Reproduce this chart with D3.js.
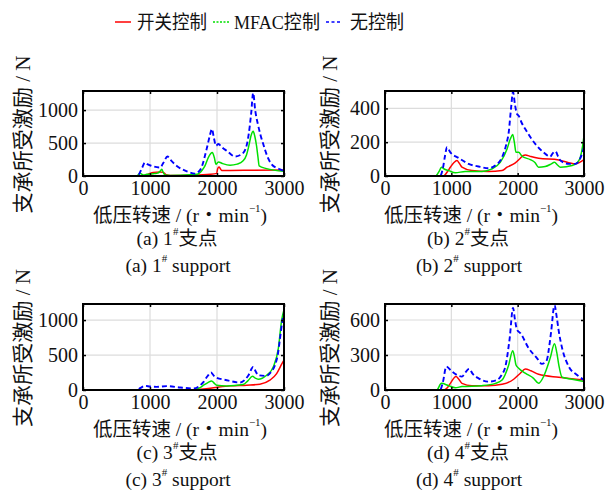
<!DOCTYPE html>
<html>
<head>
<meta charset="utf-8">
<script src="https://cdn.jsdelivr.net/npm/d3@7"></script>
<style>
body { margin: 0; background: #fff; }
svg { display: block; }
svg text { font-family: "Liberation Serif", "Times New Roman", "DejaVu Serif", "Noto Sans CJK SC", serif; fill: #111; }
</style>
</head>
<body>
<script>
// series: [rpm, force N]
var seriesNames = ["开关控制", "MFAC控制", "无控制"];

// (a) 1# support
var a_onoff = [[0,0],[900,0],[950,15],[1000,40],[1050,55],[1150,60],[1200,55],[1240,20],[1300,8],[1600,12],[1900,25],[1995,40],[2010,110],[2030,138],[2050,110],[2070,85],[2200,85],[3000,90]];
var a_mfac = [[0,0],[800,0],[850,40],[900,15],[950,25],[1050,35],[1100,40],[1150,70],[1175,102],[1200,50],[1225,15],[1300,8],[1450,10],[1700,25],[1780,90],[1820,153],[1870,280],[1930,357],[1960,280],[1985,178],[2020,214],[2080,190],[2195,163],[2300,180],[2390,230],[2440,320],[2470,434],[2510,620],[2540,678],[2565,600],[2590,459],[2610,300],[2630,153],[2740,112],[3000,71]];
var a_none = [[0,0],[780,0],[830,20],[880,120],[925,205],[960,180],[1025,153],[1150,128],[1200,200],[1260,296],[1320,230],[1400,153],[1550,71],[1670,36],[1720,60],[1760,110],[1845,408],[1890,600],[1925,714],[1950,600],[1985,459],[2020,485],[2080,430],[2145,383],[2270,296],[2370,332],[2430,420],[2470,612],[2510,950],[2540,1260],[2570,1000],[2615,765],[2650,620],[2690,485],[2750,300],[2815,178],[2940,102],[3000,76]];

// (b) 2# support
var b_onoff = [[0,0],[880,0],[940,25],[985,52],[1040,80],[1085,91],[1120,75],[1160,52],[1310,32],[1560,27],[1765,32],[1840,52],[1965,78],[2040,105],[2080,120],[2115,125],[2200,115],[2315,105],[2620,95],[2870,72],[3000,97]];
var b_mfac = [[0,0],[760,0],[820,30],[850,52],[900,40],[960,32],[1060,19],[1210,27],[1460,27],[1615,42],[1740,82],[1840,160],[1890,220],[1925,245],[1950,200],[1975,140],[2015,140],[2065,117],[2190,97],[2260,80],[2315,52],[2415,56],[2500,70],[2555,82],[2600,65],[2645,52],[2820,62],[2900,80],[2945,111],[2980,180],[3000,239]];
var b_none = [[0,0],[830,0],[870,40],[905,120],[935,170],[985,140],[1110,107],[1260,72],[1410,56],[1560,46],[1660,62],[1765,111],[1830,190],[1865,258],[1900,400],[1930,498],[1960,420],[1990,367],[2015,357],[2060,315],[2115,278],[2265,190],[2390,140],[2490,115],[2530,135],[2570,146],[2610,115],[2645,91],[2770,72],[2870,72],[2950,110],[3000,170]];

// (c) 3# support
var c_onoff = [[0,0],[1600,0],[1800,15],[1945,31],[2195,59],[2445,69],[2640,83],[2790,140],[2890,235],[2965,370],[3000,430]];
var c_mfac = [[0,0],[1650,0],[1740,30],[1800,69],[1870,110],[1920,130],[1960,95],[1995,69],[2145,59],[2390,78],[2460,130],[2530,197],[2570,170],[2615,154],[2740,211],[2840,330],[2915,591],[2965,1000],[3000,1150]];
var c_none = [[0,0],[800,0],[860,30],[925,59],[1000,50],[1100,45],[1250,55],[1450,36],[1650,21],[1740,60],[1800,116],[1860,200],[1910,250],[1940,220],[1970,188],[2145,140],[2345,107],[2420,150],[2470,211],[2540,330],[2580,260],[2615,211],[2740,202],[2800,250],[2865,354],[2910,520],[2940,734],[2970,950],[3000,1100]];

// (d) 4# support
var d_onoff = [[0,0],[880,0],[940,20],[985,57],[1070,115],[1110,95],[1160,57],[1310,37],[1560,37],[1765,49],[1940,92],[2040,144],[2115,181],[2200,165],[2315,135],[2620,109],[3000,86]];
var d_mfac = [[0,0],[780,0],[850,57],[960,37],[1060,20],[1160,29],[1460,37],[1665,57],[1765,86],[1865,215],[1925,336],[1950,290],[1975,215],[2015,187],[2115,144],[2240,100],[2315,57],[2390,115],[2490,273],[2555,396],[2590,320],[2620,215],[2670,109],[2820,92],[3000,72]];
var d_none = [[0,0],[830,0],[870,60],[925,201],[1010,158],[1160,115],[1210,150],[1270,181],[1320,140],[1410,100],[1560,72],[1690,86],[1760,130],[1815,201],[1880,445],[1930,703],[1960,600],[1990,517],[2040,488],[2165,359],[2290,273],[2365,224],[2440,258],[2470,350],[2505,502],[2555,726],[2590,620],[2620,502],[2670,359],[2770,201],[2895,129],[3000,86]];

var xTicks = [0, 1000, 2000, 3000];
var yTicksA = [0, 500, 1000], yTicksB = [0, 200, 400], yTicksC = [0, 500, 1000], yTicksD = [0, 300, 600];
var yMax = [1290, 503, 1230, 737];
var letters = ["a", "b", "c", "d"];

var colors = ["#ff0000", "#00e000", "#0000ff"];
var dashes = [null, null, "5,3"];
var widths = [1.5, 1.5, 1.9];

var panels = [
  {left: 83,  top: 91,  w: 201, h: 85, yt: yTicksA, data: [a_onoff, a_mfac, a_none], lx: 180, ly: 22.5},
  {left: 385, top: 91,  w: 199, h: 85, yt: yTicksB, data: [b_onoff, b_mfac, b_none], lx: 471, ly: 329.5},
  {left: 83,  top: 304, w: 201, h: 86, yt: yTicksC, data: [c_onoff, c_mfac, c_none], lx: 180, ly: 22.5},
  {left: 385, top: 304, w: 199, h: 86, yt: yTicksD, data: [d_onoff, d_mfac, d_none], lx: 471, ly: 329.5}
];

var svg = d3.select("body").append("svg")
  .attr("width", 607)
  .attr("height", 491);

// legend
var leg = svg.append("g");
var legItems = [{x: 115, tx: 137, tl: 70}, {x: 213, tx: 234, tl: 86}, {x: 326, tx: 350, tl: 54}];
legItems.forEach(function(it, i) {
  leg.append("line")
    .attr("x1", it.x).attr("x2", it.x + 16)
    .attr("y1", 22).attr("y2", 22)
    .attr("stroke", colors[i])
    .attr("stroke-width", 1.5)
    .attr("stroke-dasharray", i == 1 ? "2,1.5" : (i == 2 ? "3,2.5" : null));
  leg.append("text")
    .attr("x", it.tx).attr("y", 22)
    .attr("dominant-baseline", "central")
    .attr("font-size", 19)
    .attr("textLength", it.tl)
    .attr("lengthAdjust", "spacingAndGlyphs")
    .text(seriesNames[i]);
});

panels.forEach(function(p, k) {
  var g = svg.append("g").attr("transform", "translate(" + p.left + "," + p.top + ")");

  var x = d3.scaleLinear().domain([0, 3000]).range([0, p.w]);
  var y = d3.scaleLinear().domain([0, yMax[k]]).range([p.h, 0]);

  // grid
  g.append("g").selectAll("line").data(xTicks.slice(1, -1)).enter().append("line")
    .attr("x1", function(d) { return x(d); }).attr("x2", function(d) { return x(d); })
    .attr("y1", 0).attr("y2", p.h)
    .attr("stroke", "#dcdcdc").attr("stroke-width", 1.2);
  g.append("g").selectAll("line").data(p.yt.slice(1)).enter().append("line")
    .attr("y1", function(d) { return y(d); }).attr("y2", function(d) { return y(d); })
    .attr("x1", 0).attr("x2", p.w)
    .attr("stroke", "#dcdcdc").attr("stroke-width", 1.2);

  // lines
  g.append("clipPath").attr("id", "clip" + k)
    .append("rect").attr("width", p.w).attr("height", p.h + 1);
  var line = d3.line()
    .x(function(d) { return x(d[0]); })
    .y(function(d) { return y(d[1]); })
    .curve(d3.curveMonotoneX);
  var lg = g.append("g").attr("clip-path", "url(#clip" + k + ")");
  p.data.forEach(function(s, i) {
    lg.append("path")
      .datum(s)
      .attr("d", line)
      .attr("fill", "none")
      .attr("stroke", colors[i])
      .attr("stroke-width", widths[i])
      .attr("stroke-dasharray", dashes[i])
      .attr("stroke-linejoin", "round");
  });

  // axes, ticks pointing inward
  var fmt = d3.format("d");
  g.append("g").attr("transform", "translate(0," + p.h + ")")
    .call(d3.axisBottom(x).tickValues(xTicks).tickFormat(fmt).tickSizeInner(-3).tickSizeOuter(0).tickPadding(5));
  g.append("g")
    .call(d3.axisLeft(y).tickValues(p.yt).tickFormat(fmt).tickSizeInner(-3).tickSizeOuter(0).tickPadding(5));
  g.append("g")
    .call(d3.axisTop(x).tickValues(xTicks).tickSizeInner(-3).tickSizeOuter(0).tickFormat(""));
  g.append("g").attr("transform", "translate(" + p.w + ",0)")
    .call(d3.axisRight(y).tickValues(p.yt).tickSizeInner(-3).tickSizeOuter(0).tickFormat(""));
  g.selectAll(".domain").remove();
  g.selectAll("g").attr("font-family", null);
  g.selectAll(".tick line").attr("stroke", "#000").attr("stroke-width", 1.5);
  g.selectAll(".tick text").attr("font-size", 20).attr("fill", "#111");

  g.append("rect")
    .attr("width", p.w).attr("height", p.h)
    .attr("fill", "none").attr("stroke", "#000").attr("stroke-width", 2);

  // y label
  svg.append("text")
    .attr("transform", "translate(" + p.ly + "," + (p.top + p.h / 2 + 1) + ") rotate(-90)")
    .attr("text-anchor", "middle")
    .attr("dominant-baseline", "central")
    .attr("font-size", 21)
    .attr("textLength", 158)
    .attr("lengthAdjust", "spacingAndGlyphs")
    .text("支承所受激励 / N");

  // x label
  var base = p.top + p.h;
  var xl = svg.append("text")
    .attr("x", p.lx).attr("y", base + 39)
    .attr("text-anchor", "middle")
    .attr("dominant-baseline", "central")
    .attr("font-size", 19.5);
  xl.append("tspan").text("低压转速 / (r・min");
  xl.append("tspan").attr("font-size", 11).attr("dy", -7).text("−1");
  xl.append("tspan").attr("dy", 7).text(")");

  var cap1 = svg.append("text")
    .attr("x", p.lx - 3).attr("y", base + 62)
    .attr("text-anchor", "middle")
    .attr("dominant-baseline", "central")
    .attr("font-size", 19.5);
  cap1.append("tspan").text("(" + letters[k] + ") " + (k + 1));
  cap1.append("tspan").attr("font-size", 11).attr("dy", -7).text("#");
  cap1.append("tspan").attr("dy", 7).text("支点");

  var cap2 = svg.append("text")
    .attr("x", p.lx - 2).attr("y", base + 89)
    .attr("text-anchor", "middle")
    .attr("dominant-baseline", "central")
    .attr("font-size", 19.5);
  cap2.append("tspan").text("(" + letters[k] + ") " + (k + 1));
  cap2.append("tspan").attr("font-size", 11).attr("dy", -7).text("#");
  cap2.append("tspan").attr("dy", 7).text(" support");
});
</script>
</body>
</html>
